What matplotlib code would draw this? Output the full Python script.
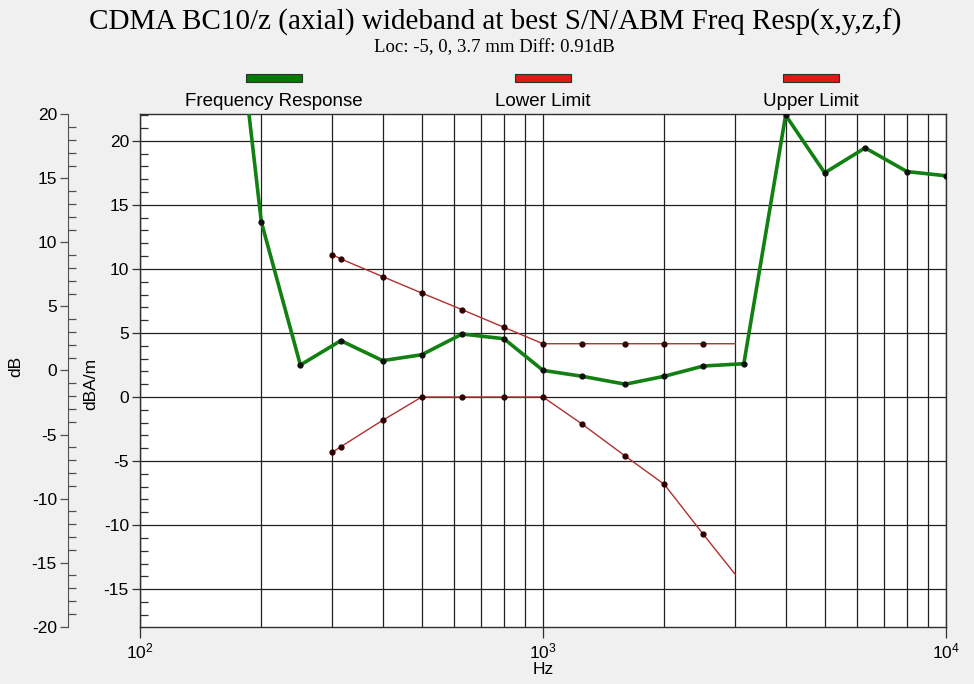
import matplotlib
matplotlib.use("Agg")
import matplotlib.pyplot as plt
from matplotlib.ticker import MultipleLocator, LogLocator, NullFormatter
from matplotlib.patches import Rectangle

# Frequency response (dBA/m)
freq_resp_hz = [150, 200, 250, 315, 400, 500, 630, 800, 1000, 1250, 1600, 2000,
                2500, 3150, 4000, 5000, 6300, 8000, 10000]
freq_resp_db = [48.0, 13.67, 2.5, 4.4, 2.84, 3.3, 4.92, 4.55, 2.08, 1.62, 1.0, 1.62,
                2.42, 2.6, 22.0, 17.5, 19.45, 17.6, 17.27]

# Limits
limit_hz = [300, 315, 400, 500, 630, 800, 1000, 1250, 1600, 2000, 2500, 3000]
upper_db = [11.12, 10.78, 9.4, 8.12, 6.82, 5.44, 4.16, 4.16, 4.16, 4.16, 4.16, 4.16]
lower_db = [-4.32, -3.88, -1.82, 0, 0, 0, 0, -2.11, -4.61, -6.82, -10.73, -13.85]

legend_labels = ["Frequency Response", "Lower Limit", "Upper Limit"]

W, H = 974, 684
plt.rcParams['font.family'] = ['Liberation Sans', 'DejaVu Sans']
plt.rcParams['axes.unicode_minus'] = False
fig = plt.figure(figsize=(W / 100, H / 100), dpi=100, facecolor='#f0f0f0')

def fx(px):
    return px / W

def fy(py):
    return 1 - py / H

left, right, top, bottom = 140, 946, 114.3, 626.7
ax = fig.add_axes([fx(left), fy(bottom), (right - left) / W, (bottom - top) / H])
ax.set_facecolor('white')
ax.set_xscale('log')
ax.set_xlim(100, 10000)
ax.set_ylim(-17.93, 22.07)

ax.xaxis.set_major_locator(LogLocator(base=10, numticks=5))
ax.xaxis.set_minor_locator(LogLocator(base=10, subs=range(2, 10), numticks=10))
ax.xaxis.set_minor_formatter(NullFormatter())
ax.yaxis.set_major_locator(MultipleLocator(5))
ax.yaxis.set_minor_locator(MultipleLocator(1))

ax.grid(True, which='major', axis='y', color='#202020', lw=0.9)
ax.grid(True, which='both', axis='x', color='#202020', lw=0.9)
ax.tick_params(axis='y', which='major', direction='out', length=6, width=0.9,
               labelsize=12.5, pad=2, colors='#303030', labelcolor='black')
ax.tick_params(axis='y', which='minor', direction='in', length=6, width=0.9, colors='#303030')
ax.tick_params(axis='x', which='major', direction='out', length=8, width=0.9,
               labelsize=12.5, pad=3, colors='#303030', labelcolor='black')
ax.tick_params(axis='x', which='minor', length=0)
for s in ax.spines.values():
    s.set_color('#303030')
    s.set_linewidth(1.0)

ax.plot(limit_hz, upper_db, color='#b03030', lw=1.0, marker='o', ms=3.5,
        mfc='#300000', mec='#300000', markevery=slice(0, len(limit_hz) - 1), zorder=3)
ax.plot(limit_hz, lower_db, color='#b03030', lw=1.0, marker='o', ms=3.5,
        mfc='#300000', mec='#300000', markevery=slice(0, len(limit_hz) - 1), zorder=3)
ax.plot(freq_resp_hz, freq_resp_db, color='#138013', lw=2.6, marker='o', ms=3.5,
        mfc='#101010', mec='#101010', zorder=4)

ax.set_xlabel('Hz', fontsize=12.5, labelpad=0)

# outer dB axis
ax2 = fig.add_axes([fx(68), fy(bottom), 0.0005, (bottom - top) / H])
ax2.set_facecolor('none')
ax2.set_ylim(-20, 20)
ax2.set_xticks([])
for k in ['right', 'top', 'bottom']:
    ax2.spines[k].set_visible(False)
ax2.spines['left'].set_color('#505050')
ax2.yaxis.set_major_locator(MultipleLocator(5))
ax2.yaxis.set_minor_locator(MultipleLocator(1))
ax2.tick_params(axis='y', which='major', direction='out', length=6, width=0.9,
                labelsize=12.5, pad=2, colors='#505050', labelcolor='black')
ax2.tick_params(axis='y', which='minor', direction='in', length=6, width=0.9, colors='#505050')

fig.text(fx(16), fy(366), 'dB', rotation=90, ha='center', va='center', fontsize=12.5)
fig.text(fx(91), fy(384), 'dBA/m', rotation=90, ha='center', va='center', fontsize=12.5)

# title
fig.text(fx(495), fy(22), 'CDMA BC10/z (axial) wideband at best S/N/ABM Freq Resp(x,y,z,f)',
         ha='center', va='center', fontsize=21, family='Liberation Serif')
fig.text(fx(494), fy(48), 'Loc: -5, 0, 3.7 mm Diff: 0.91dB',
         ha='center', va='center', fontsize=13.5, family='Liberation Serif')

# legend
legend_x = [274, 543, 811]
legend_colors = ['#007a00', '#e01818', '#e01818']
for cx, lab, col in zip(legend_x, legend_labels, legend_colors):
    fig.patches.append(Rectangle((fx(cx - 28), fy(82)), 56 / W, 8 / H, transform=fig.transFigure,
                                 facecolor=col, edgecolor='#303030', lw=0.8))
    fig.text(fx(cx), fy(101), lab, ha='center', va='center', fontsize=13.5)

fig.savefig('out.png', dpi=100, facecolor=fig.get_facecolor())
